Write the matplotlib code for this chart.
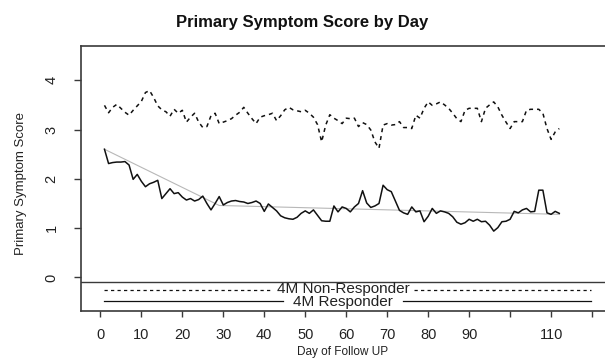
import matplotlib
matplotlib.use('Agg')
import matplotlib.pyplot as plt

plt.rcParams['font.family'] = ['Liberation Sans', 'DejaVu Sans']

# Daily mean scores, days 1..112
days = list(range(1, 113))

non_responder = [
    3.49, 3.34, 3.45, 3.51, 3.43, 3.35, 3.29, 3.39, 3.48, 3.57,
    3.75, 3.79, 3.65, 3.48, 3.40, 3.36, 3.27, 3.41, 3.33, 3.39,
    3.15, 3.25, 3.33, 3.15, 3.04, 3.06, 3.28, 3.33, 3.12, 3.15,
    3.18, 3.22, 3.29, 3.35, 3.45, 3.33, 3.22, 3.12, 3.25, 3.28,
    3.30, 3.33, 3.18, 3.28, 3.40, 3.45, 3.40, 3.38, 3.36, 3.39,
    3.33, 3.25, 3.10, 2.75, 3.09, 3.30, 3.23, 3.18, 3.12, 3.23,
    3.22, 3.23, 3.06, 3.14, 3.10, 2.99, 2.75, 2.62, 3.09, 3.12,
    3.09, 3.10, 3.16, 3.04, 3.04, 3.02, 3.29, 3.23, 3.43, 3.56,
    3.49, 3.52, 3.56, 3.50, 3.43, 3.33, 3.22, 3.16, 3.39, 3.43,
    3.43, 3.43, 3.16, 3.43, 3.50, 3.56, 3.46, 3.29, 3.15, 3.02,
    3.16, 3.16, 3.16, 3.39, 3.41, 3.41, 3.41, 3.33, 3.02, 2.80,
    2.95, 3.02,
]

responder = [
    2.60, 2.31, 2.33, 2.34, 2.34, 2.35, 2.28, 1.99, 2.09, 1.95,
    1.84, 1.90, 1.93, 1.97, 1.60, 1.70, 1.80, 1.70, 1.72, 1.63,
    1.57, 1.60, 1.55, 1.58, 1.65, 1.50, 1.37, 1.50, 1.64, 1.47,
    1.52, 1.55, 1.56, 1.54, 1.53, 1.50, 1.52, 1.55, 1.50, 1.34,
    1.49, 1.42, 1.35, 1.25, 1.21, 1.19, 1.18, 1.22, 1.30, 1.35,
    1.30, 1.37, 1.26, 1.15, 1.14, 1.14, 1.45, 1.33, 1.43, 1.40,
    1.33, 1.43, 1.50, 1.76, 1.51, 1.42, 1.45, 1.50, 1.87, 1.78,
    1.74, 1.55, 1.36, 1.31, 1.28, 1.43, 1.33, 1.35, 1.13, 1.24,
    1.40, 1.30, 1.35, 1.33, 1.30, 1.23, 1.12, 1.08, 1.11, 1.18,
    1.14, 1.18, 1.13, 1.14, 1.06, 0.94, 1.01, 1.13, 1.14, 1.18,
    1.34, 1.31, 1.37, 1.40, 1.33, 1.34, 1.77, 1.77, 1.31, 1.28,
    1.34, 1.30,
]

# smoothed trend of the responder curve
trend_days = [1, 29, 112]
trend_vals = [2.60, 1.46, 1.28]

x_ticks = list(range(0, 121, 10))
x_tick_labels = ['0', '10', '20', '30', '40', '50', '60', '70', '80', '90', '', '110', '']
y_ticks = [0, 1, 2, 3, 4]

text_col = '#222222'
axis_col = '#3a3a3a'

fig = plt.figure(figsize=(6.05, 3.62), dpi=100)
ax = fig.add_axes([0.1334, 0.1409, 0.8777, 0.7329])

ax.plot(trend_days, trend_vals, color='#b8b8b8', linewidth=0.8, zorder=2)
ax.plot(days, non_responder, color='#111111', linewidth=1.1, dashes=(2.6, 2.6), zorder=3)
ax.plot(days, responder, color='#111111', linewidth=1.1, zorder=3)

ax.set_xlim(-4.8, 124.8)
ax.set_ylim(-0.68, 4.70)

# legend box drawn inside the bottom of the plot
ax.axhline(-0.095, color=axis_col, linewidth=1.0)
ax.plot([0.044, 0.360], [0.081, 0.081], transform=ax.transAxes, color='#111111',
        linewidth=0.9, dashes=(2.6, 2.6))
ax.plot([0.628, 0.961], [0.081, 0.081], transform=ax.transAxes, color='#111111',
        linewidth=0.9, dashes=(2.6, 2.6))
ax.plot([0.044, 0.381], [0.036, 0.036], transform=ax.transAxes, color='#111111', linewidth=0.9)
ax.plot([0.607, 0.961], [0.036, 0.036], transform=ax.transAxes, color='#111111', linewidth=0.9)
ax.text(0.494, 0.083, '4M Non-Responder', transform=ax.transAxes, ha='center', va='center',
        fontsize=11, color=text_col)
ax.text(0.494, 0.034, '4M Responder', transform=ax.transAxes, ha='center', va='center',
        fontsize=11, color=text_col)

ax.set_xticks(x_ticks)
ax.set_xticklabels(x_tick_labels)
ax.set_yticks(y_ticks)
ax.tick_params(axis='x', direction='out', length=4, width=1, colors=axis_col,
               labelcolor=text_col, labelsize=10.5, pad=8)
ax.tick_params(axis='y', direction='out', length=5, width=1, colors=axis_col,
               labelcolor=text_col, labelsize=10.5, pad=11, labelrotation=90)
for lab in ax.get_yticklabels():
    lab.set_va('center')

for sp in ax.spines.values():
    sp.set_color(axis_col)
    sp.set_linewidth(1.2)

fig.text(0.5, 0.939, 'Primary Symptom Score by Day', ha='center', va='center',
         fontsize=12, fontweight='bold', color='#111111')
fig.text(0.035, 0.494, 'Primary Symptom Score', rotation=90, ha='center', va='center',
         fontsize=9.5, color=text_col)
fig.text(0.567, 0.028, 'Day of Follow UP', ha='center', va='center',
         fontsize=8.5, color=text_col)

fig.savefig('out.png', dpi=100)
plt.close(fig)
